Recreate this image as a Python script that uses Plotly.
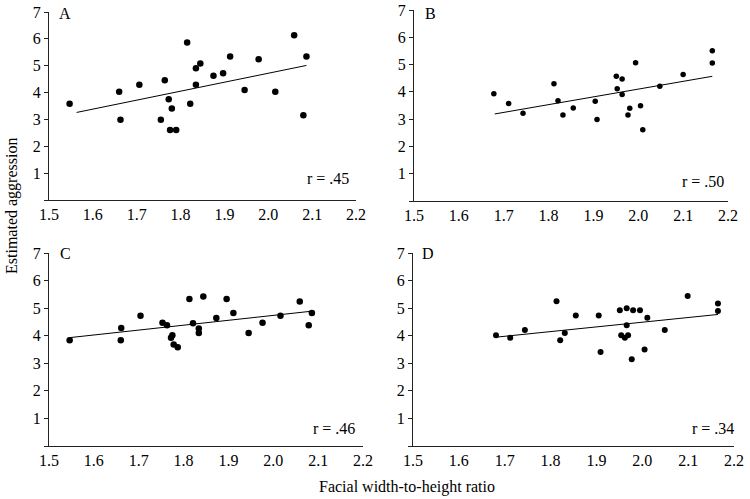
import plotly.graph_objects as go

# ---- Data ----
a_x = [1.547, 1.660, 1.663, 1.706, 1.755, 1.764, 1.773, 1.780, 1.776, 1.790, 1.815, 1.822,
       1.835, 1.835, 1.845, 1.875, 1.897, 1.913, 1.946, 1.978, 2.016, 2.059, 2.080, 2.087]
a_y = [3.58, 4.03, 2.99, 4.29, 2.99, 4.46, 3.75, 3.41, 2.61, 2.61, 5.86, 3.58,
       4.91, 4.29, 5.08, 4.63, 4.72, 5.34, 4.10, 5.24, 4.03, 6.13, 3.16, 5.34]
a_fit_x = [1.563, 2.087]
a_fit_y = [3.26, 5.01]

b_x = [1.678, 1.711, 1.743, 1.812, 1.821, 1.832, 1.855, 1.904, 1.908, 1.951, 1.953,
       1.964, 1.964, 1.981, 1.977, 1.994, 2.005, 2.010, 2.048, 2.100, 2.165, 2.165]
b_y = [3.93, 3.57, 3.22, 4.30, 3.67, 3.15, 3.41, 3.66, 2.99, 4.57, 4.11,
       4.47, 3.90, 3.40, 3.15, 5.07, 3.49, 2.61, 4.21, 4.64, 5.51, 5.06]
b_fit_x = [1.680, 2.165]
b_fit_y = [3.19, 4.57]

c_x = [1.546, 1.660, 1.661, 1.704, 1.753, 1.763, 1.772, 1.775, 1.778, 1.787, 1.813, 1.821,
       1.834, 1.834, 1.844, 1.873, 1.896, 1.911, 1.945, 1.976, 2.016, 2.059, 2.079, 2.086]
c_y = [3.84, 3.84, 4.28, 4.72, 4.47, 4.38, 3.93, 4.02, 3.68, 3.58, 5.33, 4.45,
       4.26, 4.10, 5.42, 4.64, 5.33, 4.82, 4.10, 4.47, 4.72, 5.24, 4.38, 4.82]
c_fit_x = [1.546, 2.086]
c_fit_y = [3.93, 4.89]

d_x = [1.681, 1.712, 1.744, 1.813, 1.821, 1.831, 1.855, 1.905, 1.909, 1.951, 1.954, 1.962,
       1.966, 1.966, 1.969, 1.977, 1.980, 1.995, 2.005, 2.011, 2.049, 2.099, 2.165, 2.165]
d_y = [4.02, 3.93, 4.21, 5.25, 3.84, 4.10, 4.73, 4.73, 3.41, 4.92, 4.02, 3.93,
       5.00, 4.38, 4.02, 3.15, 4.92, 4.92, 3.50, 4.65, 4.21, 5.44, 5.17, 4.90]
d_fit_x = [1.683, 2.165]
d_fit_y = [3.95, 4.77]

panel_labels = ["A", "B", "C", "D"]
r_labels = ["r = .45", "r = .50", "r = .46", "r = .34"]
x_ticks = [1.5, 1.6, 1.7, 1.8, 1.9, 2.0, 2.1, 2.2]
x_tick_text = ["1.5", "1.6", "1.7", "1.8", "1.9", "2.0", "2.1", "2.2"]
y_ticks = [0, 1, 2, 3, 4, 5, 6, 7]
y_tick_text = ["", "1", "2", "3", "4", "5", "6", "7"]

# ---- Layout geometry ----
W, H = 750, 499
FONT = "Liberation Serif"
FS = 16

panels = [
    dict(xs=a_x, ys=a_y, fx=a_fit_x, fy=a_fit_y, px=(49, 356), py=(12, 200), msize=6.5,
         lab=(65, 13), rpos=(328, 178)),
    dict(xs=b_x, ys=b_y, fx=b_fit_x, fy=b_fit_y, px=(414, 728), py=(10, 201), msize=5.5,
         lab=(430, 13), rpos=(703, 181)),
    dict(xs=c_x, ys=c_y, fx=c_fit_x, fy=c_fit_y, px=(49, 363), py=(253, 446), msize=6.5,
         lab=(65, 254), rpos=(334, 428)),
    dict(xs=d_x, ys=d_y, fx=d_fit_x, fy=d_fit_y, px=(413, 734), py=(253, 446), msize=6,
         lab=(428, 254), rpos=(713, 428)),
]

fig = go.Figure()
layout = dict(
    width=W, height=H,
    margin=dict(l=0, r=0, t=0, b=0, pad=0, autoexpand=False),
    paper_bgcolor="white", plot_bgcolor="white",
    showlegend=False,
    font=dict(family=FONT, size=FS, color="black"),
)
annotations = []

for i, p in enumerate(panels):
    n = "" if i == 0 else str(i + 1)
    xa, ya = "x" + n, "y" + n
    fig.add_trace(go.Scatter(x=p["fx"], y=p["fy"], mode="lines",
                             line=dict(color="black", width=1),
                             xaxis=xa, yaxis=ya, hoverinfo="skip"))
    fig.add_trace(go.Scatter(x=p["xs"], y=p["ys"], mode="markers",
                             marker=dict(color="black", size=p["msize"]),
                             xaxis=xa, yaxis=ya))
    layout["xaxis" + n] = dict(
        domain=[p["px"][0] / W, p["px"][1] / W], anchor=ya,
        range=[1.5, 2.2], tickvals=x_ticks, ticktext=x_tick_text,
        showline=True, linecolor="#222", linewidth=1, ticks="",
        showgrid=False, zeroline=False, fixedrange=True, automargin=False,
        tickfont=dict(family=FONT, size=FS, color="black"),
    )
    layout["yaxis" + n] = dict(
        domain=[1 - p["py"][1] / H, 1 - p["py"][0] / H], anchor=xa,
        range=[0, 7], tickvals=y_ticks, ticktext=y_tick_text,
        showline=True, linecolor="#222", linewidth=1, ticks="outside",
        ticklen=4, tickcolor="#222", showgrid=False, zeroline=False, fixedrange=True,
        automargin=False,
        tickfont=dict(family=FONT, size=FS, color="black"),
    )
    annotations.append(dict(text=panel_labels[i], x=p["lab"][0] / W, y=1 - p["lab"][1] / H,
                            xref="paper", yref="paper", showarrow=False,
                            xanchor="center", yanchor="middle",
                            font=dict(family=FONT, size=FS, color="black")))
    annotations.append(dict(text=r_labels[i], x=p["rpos"][0] / W, y=1 - p["rpos"][1] / H,
                            xref="paper", yref="paper", showarrow=False,
                            xanchor="center", yanchor="middle",
                            font=dict(family=FONT, size=FS, color="black")))

annotations.append(dict(text="Estimated aggression", x=12 / W, y=1 - 206 / H,
                        xref="paper", yref="paper", showarrow=False, textangle=-90,
                        xanchor="center", yanchor="middle",
                        font=dict(family=FONT, size=FS, color="black")))
annotations.append(dict(text="Facial width-to-height ratio", x=407 / W, y=1 - 487 / H,
                        xref="paper", yref="paper", showarrow=False,
                        xanchor="center", yanchor="middle",
                        font=dict(family=FONT, size=FS, color="black")))
layout["annotations"] = annotations
fig.update_layout(**layout)
fig.write_html("out.html", config={"displayModeBar": False},
               post_script="document.body.style.margin='0';")
